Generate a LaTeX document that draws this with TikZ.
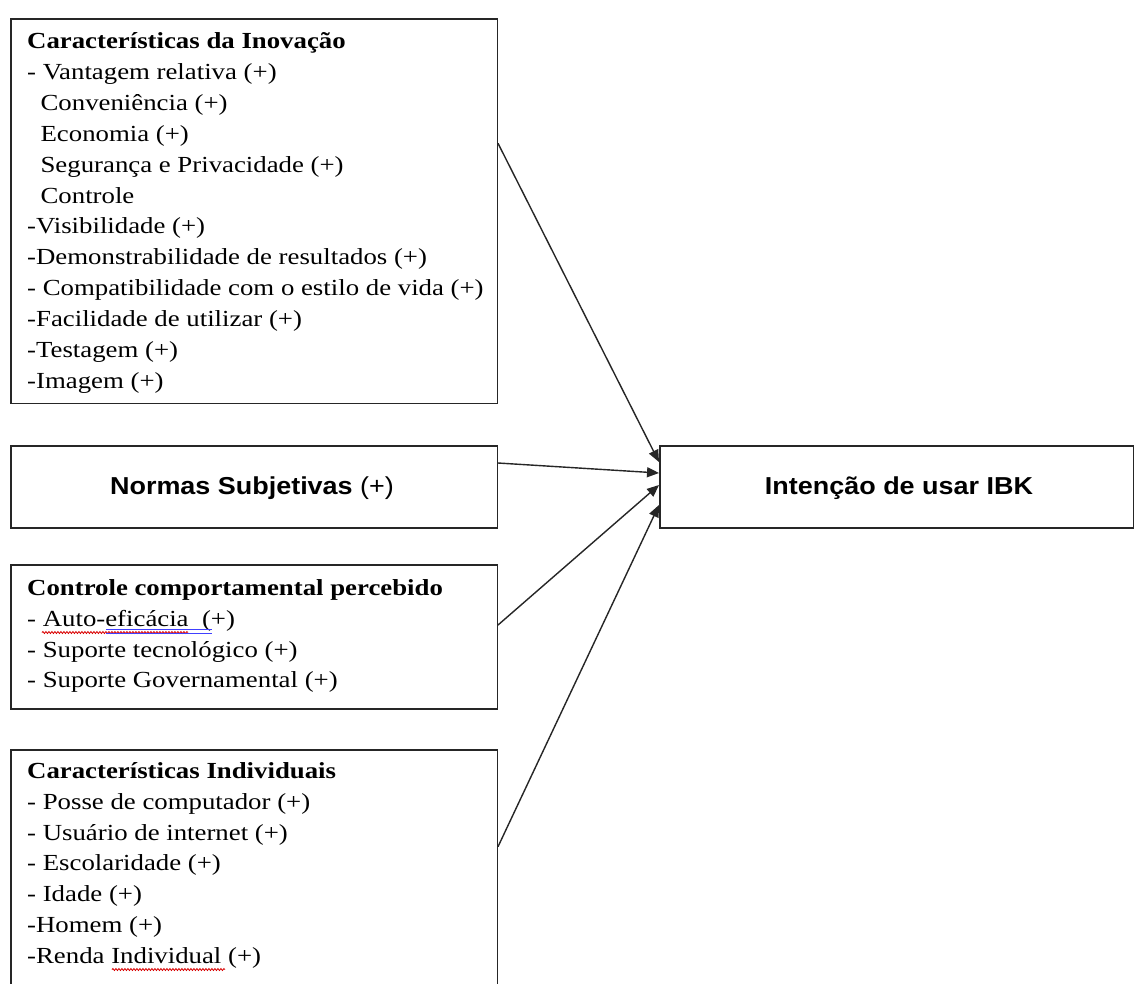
\documentclass[tikz,border=0pt]{standalone}
\usepackage{fontspec}
\setmainfont{Liberation Serif}[FakeStretch=1.165]
\newfontfamily\sansf{Liberation Sans}[FakeStretch=1.1]
\usetikzlibrary{arrows.meta,calc,decorations.pathmorphing}
\begin{document}
\begin{tikzpicture}[x=1pt,y=-1pt,
  box/.style={draw=black!85,line width=1.5pt,rectangle,inner sep=0pt,anchor=north west},
  txt/.style={inner sep=0pt,anchor=north west,align=left,font=\fontsize{23}{30.9}\selectfont},
  stxt/.style={inner sep=0pt,anchor=base,font=\sansf\fontsize{24.5}{28}\selectfont},
  arr/.style={draw=black!85,line width=1.4pt,-{Triangle[length=12pt,width=10pt]}},
  spell/.style={red!85!black,line width=0.8pt,decorate,decoration={snake,segment length=3pt,amplitude=1pt}},
  gram/.style={blue!75,line width=0.7pt}]
\useasboundingbox (0,0) rectangle (1134,983);
\clip (0,0) rectangle (1134,983);
\fill[white] (0,0) rectangle (1134,983);

% boxes
\node[box,minimum width=486.5pt,minimum height=384.5pt] (inov) at (10,18) {};
\node[box,minimum width=486.5pt,minimum height=82pt] (norm) at (10,445) {};
\node[box,minimum width=486.5pt,minimum height=144pt] (ctrl) at (10,564) {};
\node[box,minimum width=486.5pt,minimum height=261pt] (indiv) at (10,749) {};
\node[box,minimum width=474pt,minimum height=82pt] (tgt) at (659,445) {};

% texts
\newcommand{\ind}{\hspace*{13.4pt}}
\node[txt] (inovtxt) at (27,26.7) {\strut\textbf{Características da Inovação}\\
\strut- Vantagem relativa (+)\\
\strut\ind Conveniência (+)\\
\strut\ind Economia (+)\\
\strut\ind Segurança e Privacidade (+)\\
\strut\ind Controle\\
\strut-Visibilidade (+)\\
\strut-Demonstrabilidade de resultados (+)\\
\strut- Compatibilidade com o estilo de vida (+)\\
\strut-Facilidade de utilizar (+)\\
\strut-Testagem (+)\\
\strut-Imagem (+)};

\node[stxt] (normtxt) at (252,494) {\textbf{Normas Subjetivas} (+)};
\node[stxt] (tgttxt) at (899,494.3) {\textbf{Intenção de usar IBK}};

\node[txt] (ctrltxt) at (27,573.4) {\strut\textbf{Controle comportamental percebido}\\
\strut- Auto-eficácia\ \ (+)\\
\strut- Suporte tecnológico (+)\\
\strut- Suporte Governamental (+)};

\node[txt] (indivtxt) at (27,756.4) {\strut\textbf{Características Individuais}\\
\strut- Posse de computador (+)\\
\strut- Usuário de internet (+)\\
\strut- Escolaridade (+)\\
\strut- Idade (+)\\
\strut-Homem (+)\\
\strut-Renda Individual (+)};

% spell-check marks
\draw[spell] (42,632.5) -- (188,632.5);
\draw[gram] (106,629.6) -- (211.7,629.6);
\draw[gram] (106,633.8) -- (211.7,633.8);
\draw[spell] (112,969.5) -- (225,969.5);

% connectors
\draw[arr] ($(inov.north east)+(0,125.3)$) -- ($(tgt.north west)+(0,17)$);
\draw[arr] ($(norm.north east)+(0,18)$) -- ($(tgt.north west)+(0,28)$);
\draw[arr] ($(ctrl.north east)+(0,61)$) -- ($(tgt.north west)+(0,40)$);
\draw[arr] ($(indiv.north east)+(0,97.7)$) -- ($(tgt.north west)+(0,60)$);
\end{tikzpicture}
\end{document}
